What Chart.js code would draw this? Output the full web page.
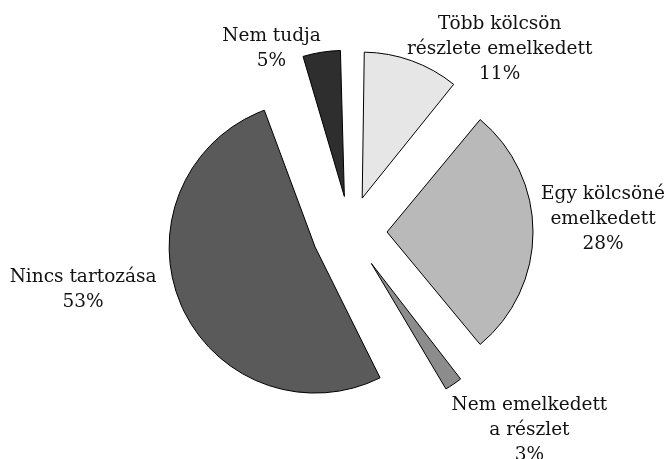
<!DOCTYPE html>
<html>
<head>
<meta charset="utf-8">
<script src="https://cdn.jsdelivr.net/npm/chart.js@4/dist/chart.umd.min.js"></script>
<style>
  html, body { margin: 0; padding: 0; background: #ffffff; }
  #wrap { width: 668px; height: 459px; position: relative; }
</style>
</head>
<body>
<div id="wrap"><canvas id="c" width="668" height="459"></canvas></div>
<script>
// ---- data ----
const categories = [
  ["Több kölcsön", "részlete emelkedett"],
  ["Egy kölcsöné", "emelkedett"],
  ["Nem emelkedett", "a részlet"],
  ["Nincs tartozása"],
  ["Nem tudja"]
];
const shares = [11, 28, 3, 53, 5];
const percentLabels = ["11%", "28%", "3%", "53%", "5%"];

// ---- styles ----
const sliceColors = ["#e6e6e6", "#b9b9b9", "#8c8c8c", "#5a5a5a", "#2e2e2e"];
const explodePx = [36, 37, 38, 38, 36];
const labelShift = [[88, -12], [70, -13], [76, 46], [-98, -15], [-50, -4]];
const FONT = '18.5px "DejaVu Serif"';
const LINE_H = 25;

// Keep slice radius constant while exploding (Chart.js otherwise grows small slices).
const ArcEl = (Chart.elements && Chart.elements.ArcElement) || Chart.ArcElement;
const origDraw = ArcEl.prototype.draw;
ArcEl.prototype.draw = function (ctx) {
  const off = (this.options.offset || 0) / 4;
  const fix = 1 - Math.sin(Math.min(Math.PI, this.circumference || 0));
  const saved = this.outerRadius;
  this.outerRadius = saved - off * fix;
  origDraw.call(this, ctx);
  this.outerRadius = saved;
};

const labelPlugin = {
  id: 'sliceLabels',
  afterDatasetsDraw(chart) {
    const ctx = chart.ctx;
    const meta = chart.getDatasetMeta(0);
    ctx.save();
    ctx.font = FONT;
    ctx.fillStyle = '#111111';
    ctx.textAlign = 'center';
    ctx.textBaseline = 'middle';
    meta.data.forEach((arc, i) => {
      const p = arc.getProps(['x', 'y', 'startAngle', 'endAngle', 'outerRadius'], true);
      const mid = (p.startAngle + p.endAngle) / 2;
      const d = explodePx[i];
      const ax = p.x + Math.cos(mid) * (d + p.outerRadius);
      const ay = p.y + Math.sin(mid) * (d + p.outerRadius);
      const lines = categories[i].concat([percentLabels[i]]);
      const cx = ax + labelShift[i][0];
      const cy = ay + labelShift[i][1];
      const top = cy - (lines.length - 1) * LINE_H / 2;
      lines.forEach((t, k) => ctx.fillText(t, cx, top + k * LINE_H));
    });
    ctx.restore();
  }
};

new Chart(document.getElementById('c'), {
  type: 'pie',
  data: {
    labels: categories.map(c => c.join(' ')),
    datasets: [{
      data: shares,
      backgroundColor: sliceColors,
      borderColor: '#000000',
      borderWidth: 1,
      borderJoinStyle: 'miter',
      offset: explodePx.map(v => v * 4)
    }]
  },
  options: {
    responsive: false,
    animation: false,
    radius: 146,
    layout: { padding: { left: 32, top: 5, right: 0, bottom: 0 } },
    plugins: {
      legend: { display: false },
      tooltip: { enabled: false }
    },
    events: []
  },
  plugins: [labelPlugin]
});
</script>
</body>
</html>
